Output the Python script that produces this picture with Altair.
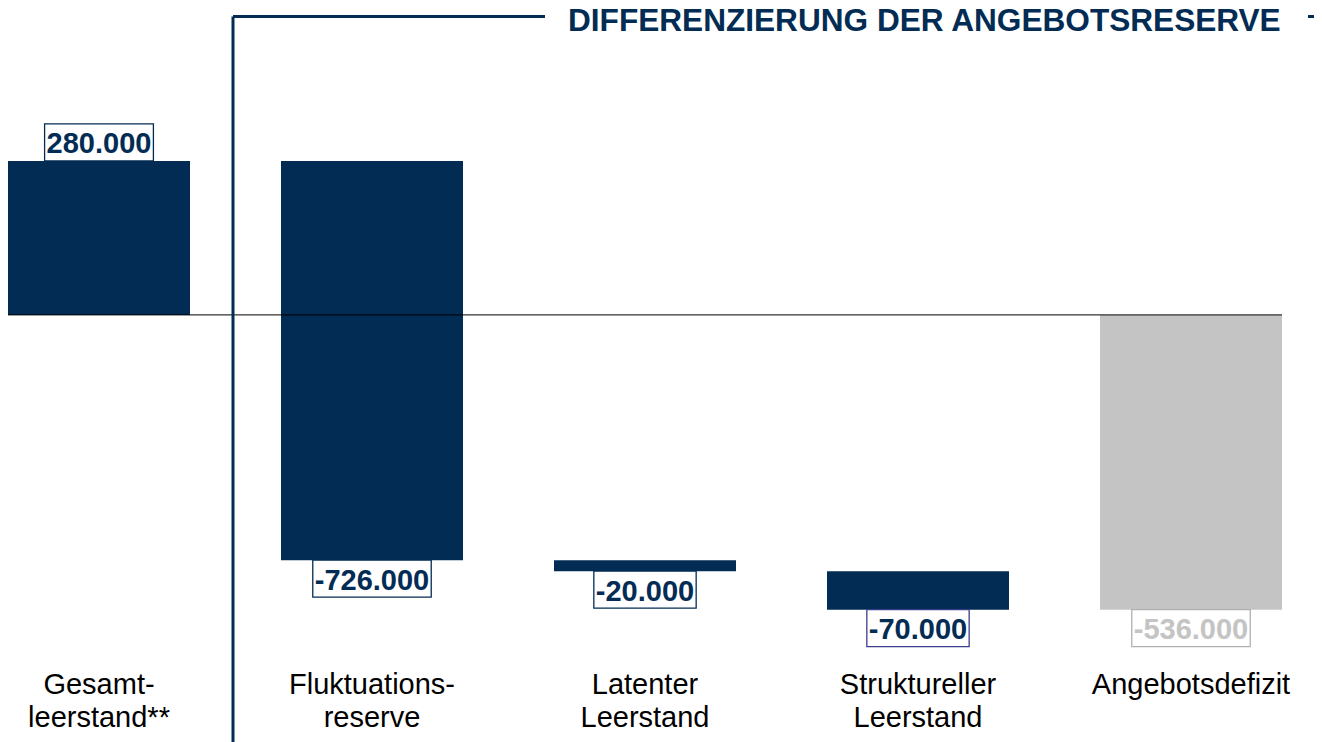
import altair as alt
import pandas as pd

# ---- data ----
categories = ["Gesamtleerstand**", "Fluktuationsreserve", "Latenter Leerstand",
              "Struktureller Leerstand", "Angebotsdefizit"]
axis_labels = ["Gesamt-\nleerstand**", "Fluktuations-\nreserve", "Latenter\nLeerstand",
               "Struktureller\nLeerstand", "Angebotsdefizit"]
values = [280000, -726000, -20000, -70000, -536000]
kinds = ["start", "delta", "delta", "delta", "total"]
title_text = "DIFFERENZIERUNG DER ANGEBOTSRESERVE"

# ---- layout constants (pixel mapping) ----
NAVY = "#032C54"
GRAY = "#C4C4C4"
GRAYTXT = "#B0B0B0"
W, H = 1306, 742
PX_PER_VAL = 0.00055
Y_TOP = 558000
Y_DOM = [Y_TOP - H / PX_PER_VAL, Y_TOP]
STEP = 273.0
X_DOM = [-1 / 3, -1 / 3 + W / STEP]
BOX_H = 37 / PX_PER_VAL
VAL_FS = 29
CHAR_W = {"-": 0.333, ".": 0.278}


def text_px(s):
    return VAL_FS * sum(CHAR_W.get(ch, 0.556) for ch in s)


def yv(page_y):
    return Y_TOP - (page_y - 8) / PX_PER_VAL


def xv(page_x):
    return (page_x - 8) / STEP - 1 / 3


rows = []
running = 0
for i, (c, lab, v, k) in enumerate(zip(categories, axis_labels, values, kinds)):
    if k == "start":
        start, end = 0, v
        running = v
    elif k == "delta":
        start, end = running, running + v
        running = end
    else:
        start, end = 0, v
    if v >= 0:
        b_lo, b_hi = end, end + BOX_H
    else:
        b_lo, b_hi = end - BOX_H, end
    txt = f"{v:,}".replace(",", ".")
    half_w = (text_px(txt) + 4) / 2 / STEP
    rows.append(dict(cat=c, label=lab, idx=i, start=start, end=end, kind=k,
                     x0=i - 1 / 3, x1=i + 1 / 3, txt=txt,
                     bx0=i - half_w, bx1=i + half_w, by0=b_lo, by1=b_hi,
                     bym=(b_lo + b_hi) / 2))
df = pd.DataFrame(rows)

xs = alt.Scale(domain=X_DOM, nice=False, zero=False)
ys = alt.Scale(domain=Y_DOM, nice=False, zero=False)

color_scale = alt.Scale(domain=["start", "delta", "total"], range=[NAVY, NAVY, GRAY])
txt_scale = alt.Scale(domain=["start", "delta", "total"], range=[NAVY, NAVY, GRAYTXT])
stroke_scale = alt.Scale(domain=categories, range=[NAVY, NAVY, NAVY, "#3C3C8C", GRAYTXT])

base = alt.Chart(df)

bars = base.mark_rect().encode(
    x=alt.X("x0:Q", scale=xs, axis=None),
    x2="x1:Q",
    y=alt.Y("start:Q", scale=ys, axis=None),
    y2="end:Q",
    color=alt.Color("kind:N", scale=color_scale, legend=None),
)

boxes = base.mark_rect(fill="white", strokeWidth=1.3).encode(
    x=alt.X("bx0:Q", scale=xs, axis=None),
    x2="bx1:Q",
    y=alt.Y("by0:Q", scale=ys, axis=None),
    y2="by1:Q",
    stroke=alt.Stroke("cat:N", scale=stroke_scale, legend=None),
)

value_text = base.mark_text(font="Liberation Sans", fontWeight="bold", fontSize=VAL_FS,
                            baseline="middle", dy=2).encode(
    x=alt.X("idx:Q", scale=xs, axis=None),
    y=alt.Y("bym:Q", scale=ys, axis=None),
    text="txt:N",
    color=alt.Color("kind:N", scale=txt_scale, legend=None),
)

cat_text = base.mark_text(font="Liberation Sans", fontSize=29, baseline="alphabetic",
                          lineBreak="\n", lineHeight=33, color="black").encode(
    x=alt.X("idx:Q", scale=xs, axis=None),
    y=alt.Y("ly:Q", scale=ys, axis=None),
    text="label:N",
).transform_calculate(ly=str(yv(694)))

zero_df = pd.DataFrame({"x0": [X_DOM[0]], "x1": [4 + 1 / 3], "y": [0]})
zero_line = alt.Chart(zero_df).mark_rule(color="black", strokeWidth=1).encode(
    x=alt.X("x0:Q", scale=xs, axis=None), x2="x1:Q",
    y=alt.Y("y:Q", scale=ys, axis=None),
)

# bracket for the "Differenzierung" group
BR_X = xv(233)
BR_Y = yv(16.5)
bracket_df = pd.DataFrame({
    "x0": [BR_X, BR_X, xv(1308)],
    "x1": [BR_X, xv(545), xv(1322)],
    "y0": [BR_Y, BR_Y, BR_Y],
    "y1": [Y_DOM[0], BR_Y, BR_Y],
})
bracket = alt.Chart(bracket_df).mark_rule(color=NAVY, strokeWidth=3).encode(
    x=alt.X("x0:Q", scale=xs, axis=None), x2="x1:Q",
    y=alt.Y("y0:Q", scale=ys, axis=None), y2="y1:Q",
)

title_df = pd.DataFrame({"x": [xv(568)], "y": [yv(22)], "t": [title_text]})
title = alt.Chart(title_df).mark_text(font="Liberation Sans", fontWeight="bold", fontSize=31.6,
                                      align="left", baseline="middle", color=NAVY).encode(
    x=alt.X("x:Q", scale=xs, axis=None),
    y=alt.Y("y:Q", scale=ys, axis=None),
    text="t:N",
)

chart = alt.layer(bars, zero_line, boxes, value_text, cat_text, bracket, title).properties(
    width=W, height=H, padding=0, autosize=alt.AutoSizeParams(type="none")
).configure_view(stroke=None)

chart.save("out.html", embed_options={"renderer": "svg", "actions": False})
